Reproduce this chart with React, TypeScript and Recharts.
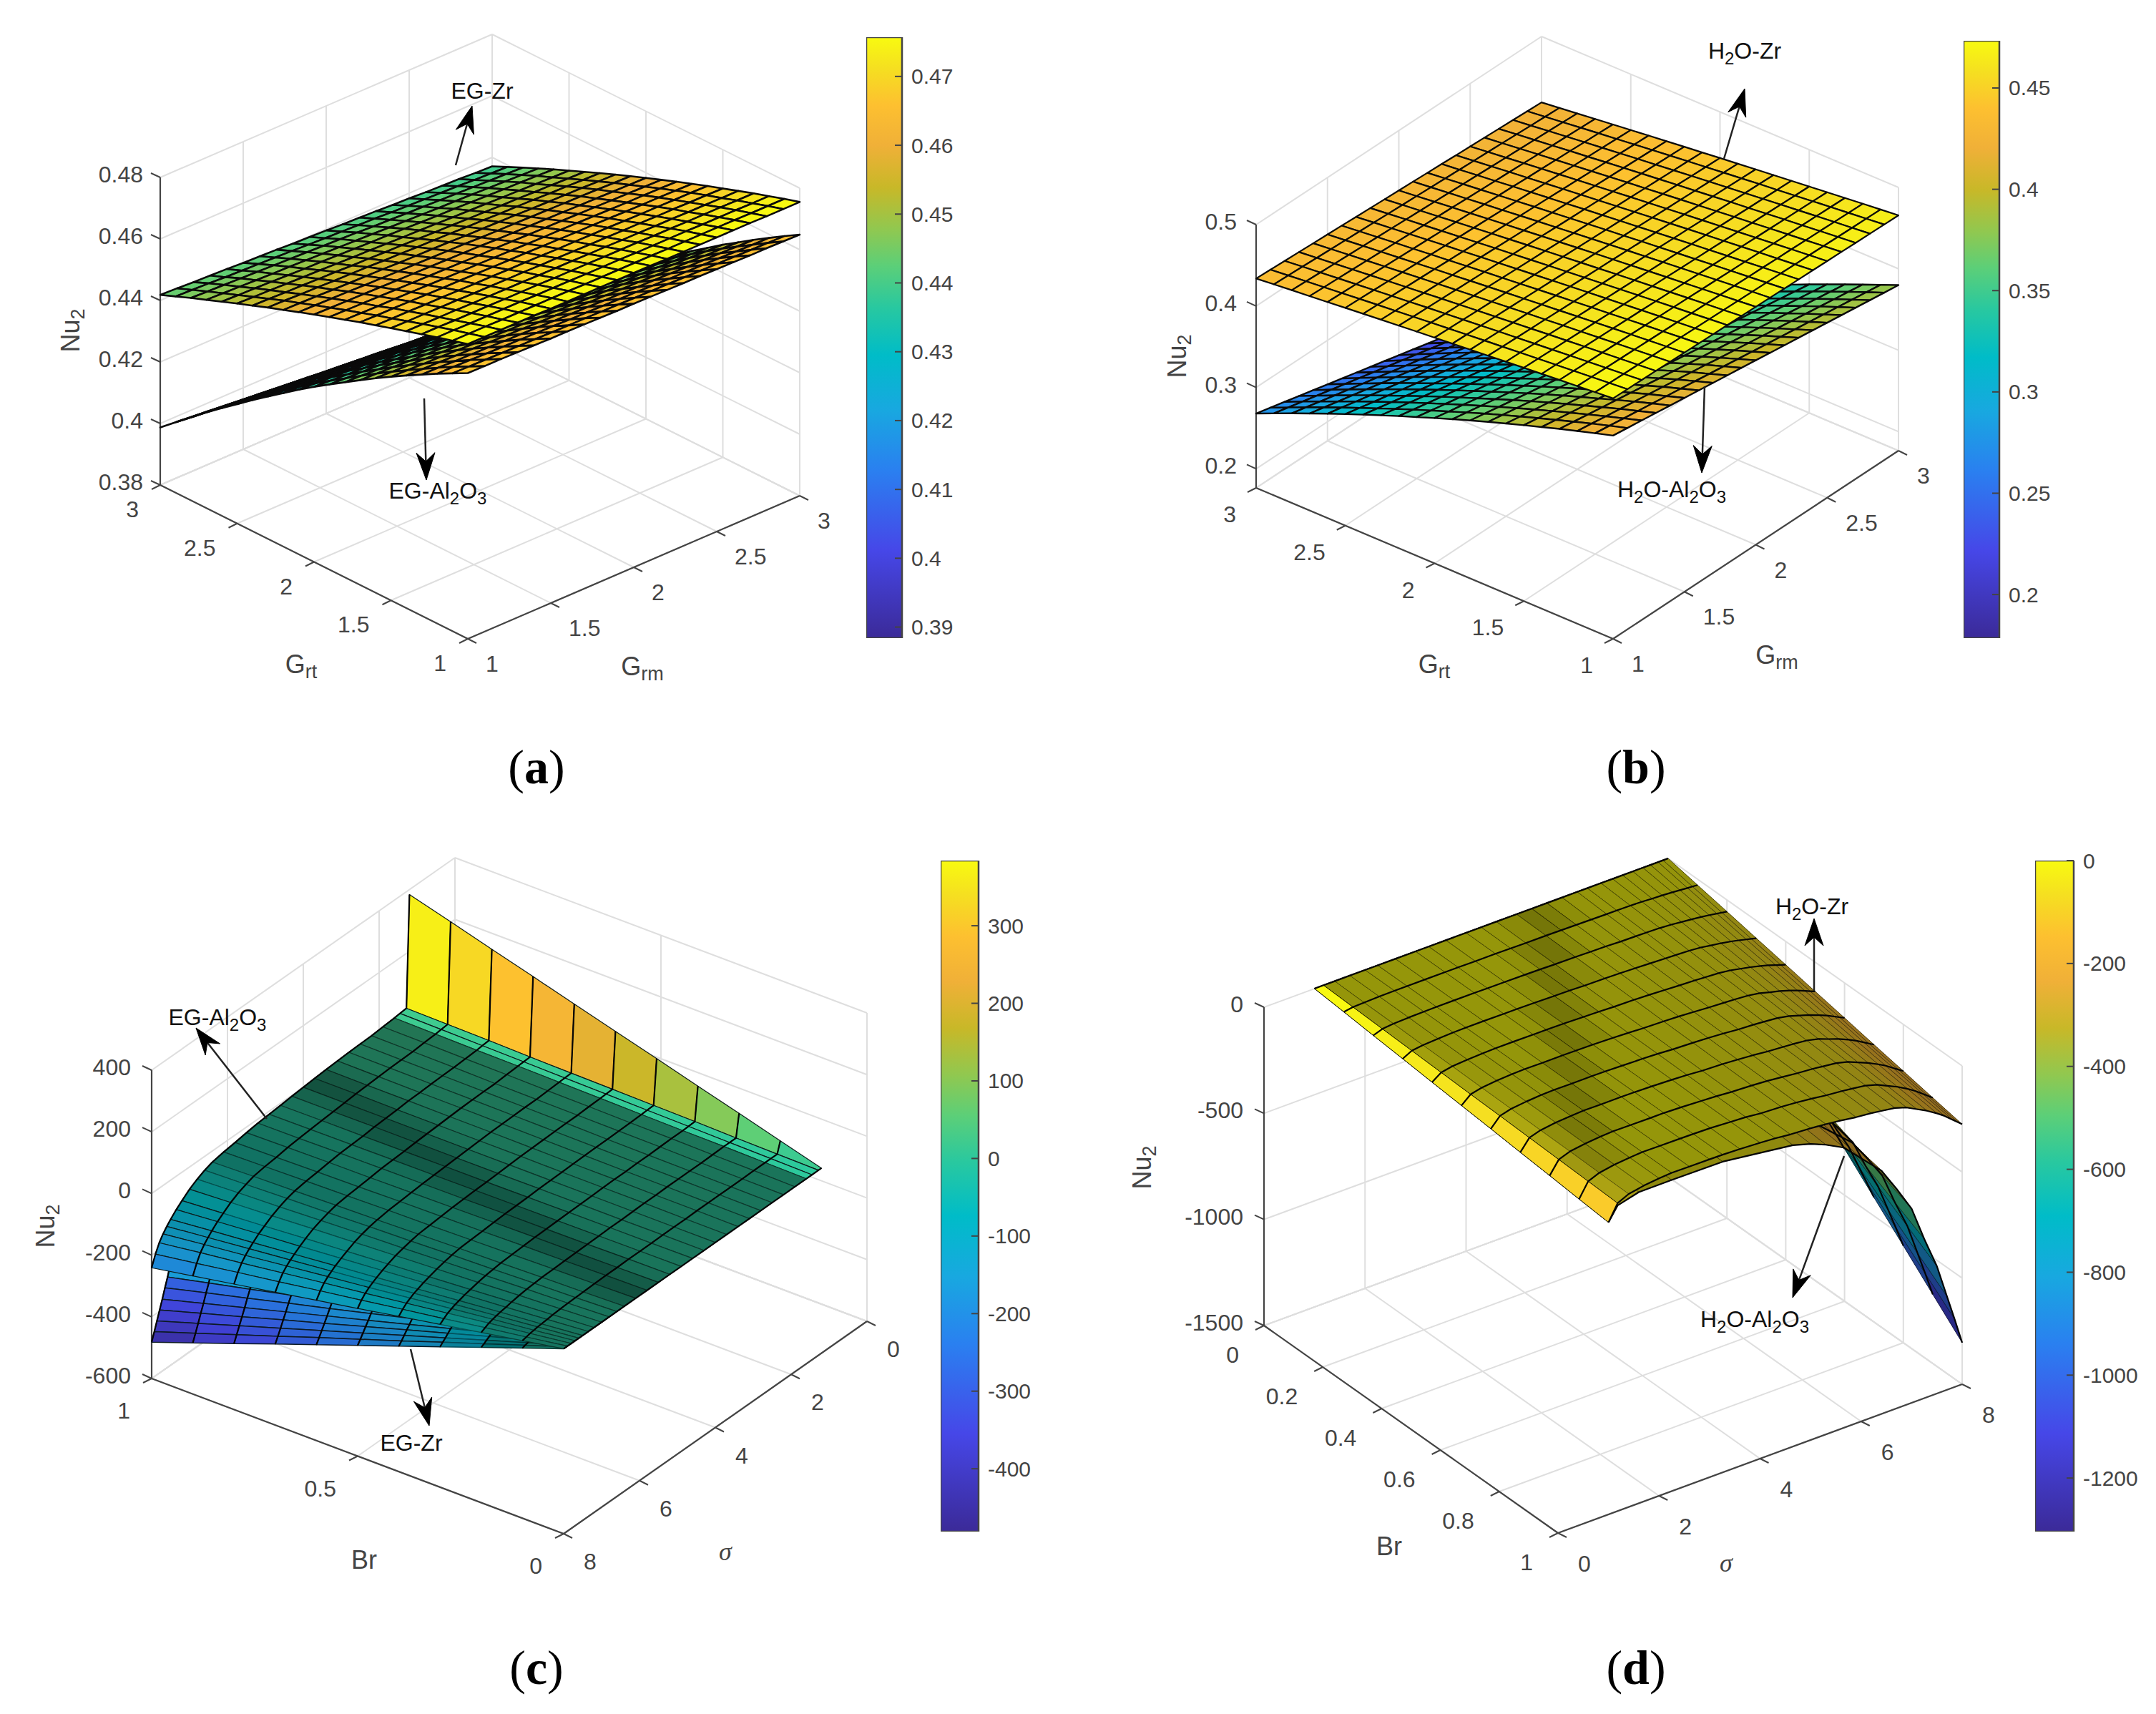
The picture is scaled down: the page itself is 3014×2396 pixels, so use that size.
import { Bar, ComposedChart, Scatter, ScatterChart, XAxis, YAxis } from "recharts"

// Nu2 values. Panels a and b are stored in units of 1e-4.
const gNodes = [1, 1.1, 1.2, 1.3, 1.4, 1.5, 1.6, 1.7, 1.8, 1.9, 2, 2.1, 2.2, 2.3, 2.4, 2.5, 2.6, 2.7, 2.8, 2.9, 3]
const brNodes = [0, 0.1, 0.2, 0.3, 0.4, 0.5, 0.6, 0.7, 0.8, 0.9, 1]

// rows: Grt 1 -> 3, columns: Grm 1 -> 3
const egZrA = [
  [4758,4758,4758,4758,4758,4757,4757,4757,4757,4757,4757,4757,4756,4756,4756,4756,4756,4756,4755,4755,4755],
  [4744,4744,4744,4743,4743,4743,4743,4743,4742,4742,4742,4742,4742,4741,4741,4741,4741,4741,4740,4740,4740],
  [4730,4730,4729,4729,4729,4729,4728,4728,4728,4727,4727,4727,4726,4726,4726,4726,4725,4725,4725,4724,4724],
  [4715,4715,4714,4714,4714,4713,4713,4713,4712,4712,4712,4711,4711,4711,4710,4710,4709,4709,4709,4708,4708],
  [4700,4700,4699,4699,4698,4698,4697,4697,4696,4696,4696,4695,4695,4694,4694,4693,4693,4692,4692,4691,4691],
  [4685,4684,4684,4683,4683,4682,4682,4681,4681,4680,4680,4679,4678,4678,4677,4677,4676,4676,4675,4675,4674],
  [4669,4668,4668,4667,4667,4666,4665,4665,4664,4664,4663,4662,4662,4661,4661,4660,4659,4659,4658,4658,4657],
  [4654,4653,4653,4652,4651,4650,4650,4649,4648,4647,4647,4646,4645,4644,4644,4643,4642,4641,4641,4640,4639],
  [4637,4636,4635,4635,4634,4633,4632,4631,4631,4630,4629,4628,4627,4627,4626,4625,4624,4623,4623,4622,4621],
  [4621,4620,4619,4618,4617,4616,4615,4614,4613,4612,4612,4611,4610,4609,4608,4607,4606,4605,4604,4603,4602],
  [4604,4603,4602,4601,4600,4599,4598,4597,4596,4595,4594,4592,4591,4590,4589,4588,4587,4586,4585,4584,4583],
  [4587,4586,4585,4584,4582,4581,4580,4579,4578,4577,4576,4574,4573,4572,4571,4570,4569,4568,4567,4565,4564],
  [4569,4568,4567,4565,4564,4563,4562,4560,4559,4558,4557,4555,4554,4553,4552,4550,4549,4548,4547,4545,4544],
  [4552,4551,4549,4548,4546,4545,4544,4542,4541,4539,4538,4537,4535,4534,4532,4531,4530,4528,4527,4525,4524],
  [4533,4532,4530,4529,4527,4526,4524,4523,4521,4520,4518,4516,4515,4513,4512,4510,4509,4507,4506,4504,4503],
  [4515,4513,4512,4510,4508,4507,4505,4503,4502,4500,4498,4497,4495,4493,4492,4490,4488,4487,4485,4483,4482],
  [4496,4494,4493,4491,4489,4487,4486,4484,4482,4480,4479,4477,4475,4473,4472,4470,4468,4466,4465,4463,4461],
  [4477,4475,4473,4471,4469,4468,4466,4464,4462,4460,4458,4456,4454,4452,4450,4449,4447,4445,4443,4441,4439],
  [4458,4456,4454,4452,4450,4448,4446,4444,4442,4440,4438,4435,4433,4431,4429,4427,4425,4423,4421,4419,4417],
  [4438,4436,4434,4431,4429,4427,4425,4423,4420,4418,4416,4414,4412,4409,4407,4405,4403,4401,4398,4396,4394],
  [4418,4416,4413,4411,4409,4406,4404,4402,4399,4397,4395,4392,4390,4388,4385,4383,4380,4378,4376,4373,4371],
]
const egAlA = [
  [4664,4663,4663,4662,4661,4660,4660,4659,4658,4657,4657,4656,4655,4654,4654,4653,4652,4651,4651,4650,4649],
  [4638,4637,4636,4635,4634,4633,4632,4631,4631,4630,4629,4628,4627,4626,4625,4624,4623,4622,4621,4620,4619],
  [4612,4611,4610,4608,4607,4606,4605,4604,4602,4601,4600,4599,4598,4596,4595,4594,4593,4592,4590,4589,4588],
  [4584,4583,4581,4580,4579,4577,4576,4575,4573,4572,4571,4569,4568,4566,4565,4564,4562,4561,4560,4558,4557],
  [4556,4554,4553,4551,4550,4548,4546,4545,4543,4542,4540,4538,4537,4535,4534,4532,4530,4529,4527,4526,4524],
  [4527,4525,4523,4522,4520,4518,4516,4514,4513,4511,4509,4507,4505,4504,4502,4500,4498,4496,4495,4493,4491],
  [4497,4495,4493,4491,4489,4487,4485,4483,4481,4479,4477,4474,4472,4470,4468,4466,4464,4462,4460,4458,4456],
  [4466,4464,4462,4459,4457,4455,4453,4450,4448,4446,4444,4441,4439,4437,4435,4432,4430,4428,4426,4423,4421],
  [4434,4432,4429,4427,4424,4422,4419,4417,4414,4412,4409,4407,4404,4402,4399,4397,4394,4392,4389,4387,4384],
  [4402,4399,4397,4394,4391,4389,4386,4383,4380,4378,4375,4372,4370,4367,4364,4362,4359,4356,4353,4351,4348],
  [4369,4366,4363,4360,4357,4354,4351,4348,4345,4342,4340,4337,4334,4331,4328,4325,4322,4319,4316,4313,4310],
  [4335,4332,4329,4326,4322,4319,4316,4313,4310,4307,4304,4300,4297,4294,4291,4288,4285,4282,4278,4275,4272],
  [4299,4296,4292,4289,4285,4282,4279,4275,4272,4268,4265,4262,4258,4255,4251,4248,4245,4241,4238,4234,4231],
  [4263,4259,4256,4252,4248,4245,4241,4237,4234,4230,4227,4223,4219,4216,4212,4208,4205,4201,4197,4194,4190],
  [4226,4222,4218,4214,4211,4207,4203,4199,4195,4191,4188,4184,4180,4176,4172,4168,4164,4161,4157,4153,4149],
  [4188,4184,4180,4176,4172,4168,4163,4159,4155,4151,4147,4143,4139,4135,4131,4127,4122,4118,4114,4110,4106],
  [4150,4146,4141,4137,4133,4128,4124,4120,4115,4111,4107,4102,4098,4093,4089,4085,4080,4076,4072,4067,4063],
  [4111,4106,4102,4097,4092,4088,4083,4078,4074,4069,4065,4060,4055,4051,4046,4041,4037,4032,4027,4023,4018],
  [4070,4065,4060,4055,4050,4046,4041,4036,4031,4026,4022,4017,4012,4007,4002,3997,3992,3988,3983,3978,3973],
  [4029,4024,4019,4014,4009,4004,3998,3993,3988,3983,3978,3973,3968,3963,3958,3953,3947,3942,3937,3932,3927],
  [3987,3982,3976,3971,3966,3960,3955,3950,3944,3939,3934,3928,3923,3918,3912,3907,3902,3896,3891,3885,3880],
]
const h2oZrB = [
  [4720,4717,4714,4711,4707,4704,4701,4698,4695,4692,4689,4685,4682,4679,4676,4673,4670,4666,4663,4660,4657],
  [4703,4700,4696,4693,4689,4686,4683,4679,4676,4672,4669,4666,4662,4659,4655,4652,4649,4645,4642,4639,4636],
  [4685,4682,4678,4674,4671,4667,4664,4660,4656,4653,4650,4646,4642,4639,4635,4632,4628,4625,4621,4617,4614],
  [4668,4664,4660,4656,4653,4649,4645,4641,4638,4634,4630,4626,4622,4618,4615,4611,4607,4603,4600,4596,4592],
  [4650,4646,4642,4638,4634,4630,4626,4622,4618,4614,4610,4606,4602,4598,4594,4590,4586,4582,4578,4574,4570],
  [4632,4628,4623,4619,4615,4611,4606,4602,4598,4594,4590,4585,4581,4577,4573,4568,4564,4560,4556,4551,4547],
  [4614,4610,4605,4601,4596,4592,4587,4583,4578,4574,4570,4565,4561,4556,4552,4547,4543,4538,4534,4529,4525],
  [4595,4590,4586,4581,4577,4572,4567,4563,4558,4554,4549,4544,4540,4535,4531,4526,4521,4517,4512,4508,4503],
  [4577,4572,4567,4562,4558,4553,4548,4543,4538,4533,4529,4524,4519,4514,4509,4504,4499,4494,4490,4485,4480],
  [4558,4553,4548,4543,4538,4533,4528,4523,4518,4513,4508,4502,4497,4492,4487,4482,4477,4472,4467,4462,4457],
  [4539,4534,4528,4523,4518,4513,4507,4502,4497,4492,4487,4481,4476,4471,4465,4460,4455,4450,4444,4439,4434],
  [4520,4515,4509,4504,4498,4493,4487,4482,4476,4471,4465,4460,4454,4449,4443,4438,4432,4427,4421,4416,4410],
  [4501,4495,4490,4484,4478,4473,4467,4461,4455,4450,4444,4438,4432,4427,4421,4415,4410,4404,4398,4393,4387],
  [4481,4475,4469,4463,4457,4451,4446,4440,4434,4428,4422,4416,4410,4404,4398,4392,4387,4381,4375,4369,4363],
  [4461,4455,4449,4443,4437,4431,4424,4418,4412,4406,4400,4394,4388,4382,4376,4370,4363,4357,4351,4345,4339],
  [4441,4435,4428,4422,4416,4409,4403,4397,4390,4384,4378,4371,4365,4359,4352,4346,4339,4333,4327,4320,4314],
  [4420,4414,4407,4401,4394,4388,4381,4375,4368,4362,4355,4349,4342,4336,4329,4323,4316,4310,4303,4297,4290],
  [4400,4393,4387,4380,4373,4366,4360,4353,4346,4339,4333,4326,4319,4312,4306,4299,4292,4285,4279,4272,4265],
  [4380,4373,4366,4359,4352,4345,4338,4331,4324,4317,4310,4303,4296,4289,4282,4275,4268,4261,4254,4247,4240],
  [4359,4352,4345,4337,4330,4323,4316,4309,4301,4294,4287,4280,4273,4265,4258,4251,4244,4237,4229,4222,4215],
  [4338,4331,4323,4316,4308,4301,4294,4286,4279,4271,4264,4257,4249,4242,4234,4227,4220,4212,4205,4197,4190],
]
const h2oAlB = [
  [4263,4240,4217,4194,4170,4147,4124,4101,4078,4055,4032,4008,3985,3962,3939,3916,3893,3869,3846,3823,3800],
  [4199,4175,4150,4126,4102,4077,4053,4029,4004,3980,3955,3931,3906,3882,3857,3833,3809,3784,3760,3735,3711],
  [4134,4109,4083,4058,4033,4008,3983,3957,3932,3906,3878,3853,3828,3802,3776,3750,3725,3699,3673,3648,3622],
  [4067,4040,4013,3986,3960,3933,3906,3879,3853,3826,3799,3772,3745,3718,3692,3665,3638,3611,3585,3558,3531],
  [3997,3969,3941,3913,3885,3857,3829,3801,3773,3745,3718,3690,3662,3634,3606,3578,3550,3522,3494,3466,3438],
  [3927,3898,3869,3840,3811,3782,3752,3723,3694,3665,3636,3607,3578,3549,3519,3490,3461,3432,3403,3374,3345],
  [3855,3825,3795,3765,3735,3705,3675,3645,3615,3585,3553,3523,3493,3463,3433,3403,3373,3343,3310,3280,3250],
  [3782,3751,3720,3689,3658,3626,3595,3564,3533,3502,3469,3438,3407,3376,3345,3313,3282,3251,3220,3187,3155],
  [3707,3675,3642,3610,3577,3545,3513,3480,3448,3415,3383,3350,3318,3285,3253,3220,3188,3155,3123,3090,3058],
  [3630,3596,3563,3529,3496,3462,3429,3395,3362,3328,3295,3261,3228,3194,3161,3127,3094,3060,3026,2993,2959],
  [3551,3516,3482,3447,3413,3378,3344,3309,3275,3240,3206,3171,3137,3102,3068,3033,2998,2964,2929,2895,2860],
  [3471,3435,3400,3364,3329,3293,3258,3222,3186,3151,3115,3080,3044,3008,2973,2937,2901,2866,2830,2795,2759],
  [3390,3353,3317,3280,3244,3207,3170,3134,3097,3061,3024,2987,2951,2914,2878,2841,2804,2768,2731,2695,2658],
  [3307,3269,3232,3194,3157,3119,3081,3044,3006,2969,2931,2893,2856,2818,2781,2743,2705,2668,2630,2593,2555],
  [3222,3183,3145,3106,3068,3029,2990,2952,2913,2875,2836,2797,2759,2720,2682,2643,2604,2566,2527,2489,2450],
  [3136,3096,3057,3017,2978,2938,2899,2859,2820,2780,2741,2701,2662,2622,2583,2543,2504,2464,2425,2385,2345],
  [3048,3008,2967,2927,2886,2846,2805,2765,2724,2684,2643,2603,2562,2522,2481,2441,2400,2360,2319,2279,2238],
  [2958,2917,2875,2834,2793,2751,2710,2668,2627,2586,2545,2503,2462,2420,2379,2338,2296,2255,2214,2172,2131],
  [2867,2825,2782,2740,2698,2656,2614,2571,2529,2487,2445,2402,2360,2318,2276,2234,2191,2149,2107,2064,2022],
  [2774,2731,2688,2645,2602,2558,2515,2472,2429,2386,2343,2300,2256,2213,2170,2127,2084,2041,1997,1954,1911],
  [2680,2636,2592,2548,2504,2460,2416,2372,2328,2284,2240,2196,2152,2108,2064,2020,1976,1932,1888,1844,1800],
]

// rows: sigma ascending, columns: Br 0 -> 1
const sigmaAlC = [1.2,1.28,1.45,1.6,1.9,2.2,2.5,2.8,3.1,3.4,3.7,4,4.3,4.6,4.9,5.2,5.5,5.8,6.1,6.4,6.6,6.8,7,7.2,7.35,7.5,7.6,7.7,7.8,7.9,8]
const egAlC = [
  [0,38,77,115,154,192,230,269,307,346,384],
  [0,2,4,7,9,11,13,15,18,20,22],
  [0,2,4,6,8,10,12,14,16,18,20],
  [0,2,4,5,7,9,11,13,14,16,18],
  [0,2,3,5,6,8,9,11,12,14,15],
  [0,1,2,4,5,6,7,8,10,11,12],
  [0,1,2,3,4,6,7,8,9,10,11],
  [0,1,2,3,4,5,6,7,8,9,10],
  [0,1,2,2,3,4,5,6,6,7,8],
  [0,1,1,2,2,3,4,4,5,5,6],
  [0,0,1,1,1,2,2,2,2,3,3],
  [0,0,0,0,0,0,0,0,0,0,0],
  [0,0,-1,-1,-1,-2,-2,-2,-2,-3,-3],
  [0,-1,-1,-2,-3,-4,-4,-5,-6,-6,-7],
  [0,-1,-2,-3,-4,-5,-6,-7,-8,-9,-10],
  [0,-1,-3,-4,-5,-7,-8,-9,-10,-12,-13],
  [0,-2,-4,-5,-7,-9,-11,-13,-14,-16,-18],
  [0,-2,-5,-7,-10,-12,-14,-17,-19,-22,-24],
  [0,-3,-6,-9,-12,-15,-17,-20,-23,-26,-29],
  [0,-4,-7,-11,-14,-18,-22,-25,-29,-32,-36],
  [0,-5,-9,-14,-18,-23,-27,-32,-36,-41,-45],
  [0,-6,-11,-17,-23,-29,-34,-40,-46,-51,-57],
  [0,-7,-14,-22,-29,-36,-43,-50,-58,-65,-72],
  [0,-9,-18,-28,-37,-46,-55,-64,-74,-83,-92],
  [0,-11,-22,-32,-43,-54,-65,-76,-86,-97,-108],
  [0,-13,-25,-38,-51,-64,-76,-89,-102,-114,-127],
  [0,-14,-28,-42,-56,-71,-85,-99,-113,-127,-141],
  [0,-16,-31,-47,-63,-79,-94,-110,-126,-141,-157],
  [0,-18,-35,-53,-71,-89,-106,-124,-142,-159,-177],
  [0,-21,-41,-62,-82,-103,-123,-144,-164,-185,-205],
  [0,-24,-48,-72,-96,-121,-145,-169,-193,-217,-241],
]
const sigmaZrC = [6.5,7,7.3,7.58,7.65,7.72,7.79,7.86,7.93,8]
const egZrC = [
  [0,-5,-10,-15,-20,-25,-30,-35,-40,-45,-50],
  [0,-9,-18,-27,-36,-45,-54,-63,-72,-81,-90],
  [0,-17,-34,-51,-68,-85,-102,-119,-136,-153,-170],
  [0,-31,-61,-92,-123,-154,-184,-215,-246,-276,-307],
  [0,-34,-67,-101,-134,-168,-202,-235,-269,-302,-336],
  [0,-37,-73,-110,-147,-184,-220,-257,-294,-330,-367],
  [0,-40,-79,-119,-158,-198,-238,-277,-317,-356,-396],
  [0,-43,-85,-128,-170,-213,-255,-298,-340,-383,-425],
  [0,-45,-91,-136,-182,-227,-272,-318,-363,-409,-454],
  [0,-48,-96,-145,-193,-241,-289,-337,-386,-434,-482],
]
const sigmaZrD = [1,1.18,1.4,1.7,2,2.25,2.6,3,3.26,3.6,4,4.3,4.6,5,5.3,5.6,5.9,6.2,6.4,6.67,6.9,7.1,7.3,7.5,7.65,7.8,7.9,8]
const h2oZrD = [
  [0,-12,-25,-37,-50,-62,-74,-87,-99,-112,-124],
  [0,-5,-10,-15,-20,-25,-29,-34,-39,-44,-49],
  [0,-3,-5,-8,-10,-13,-15,-18,-20,-23,-25],
  [0,-1,-2,-4,-5,-6,-7,-8,-10,-11,-12],
  [0,0,-1,-1,-2,-2,-2,-3,-3,-4,-4],
  [0,0,0,0,0,0,0,0,0,0,0],
  [0,0,0,0,0,-1,-1,-1,-1,-1,-1],
  [0,0,0,-1,-1,-1,-1,-1,-2,-2,-2],
  [0,0,-1,-1,-1,-2,-2,-2,-2,-3,-3],
  [0,-1,-1,-2,-2,-3,-4,-4,-5,-5,-6],
  [0,-1,-2,-4,-5,-6,-7,-8,-10,-11,-12],
  [0,-2,-3,-5,-7,-9,-10,-12,-14,-15,-17],
  [0,-3,-5,-8,-10,-13,-15,-18,-20,-23,-25],
  [0,-3,-6,-9,-12,-16,-19,-22,-25,-28,-31],
  [0,-4,-8,-11,-15,-19,-23,-27,-30,-34,-38],
  [0,-5,-9,-14,-19,-24,-28,-33,-38,-42,-47],
  [0,-6,-12,-17,-23,-29,-35,-41,-46,-52,-58],
  [0,-7,-13,-20,-26,-33,-39,-46,-52,-59,-65],
  [0,-7,-14,-22,-29,-36,-43,-50,-58,-65,-72],
  [0,-8,-16,-25,-33,-41,-49,-57,-66,-74,-82],
  [0,-10,-20,-30,-40,-50,-60,-70,-80,-90,-100],
  [0,-13,-25,-38,-50,-63,-75,-88,-100,-113,-125],
  [0,-15,-30,-45,-60,-75,-90,-105,-120,-135,-150],
  [0,-18,-36,-54,-72,-90,-108,-126,-144,-162,-180],
  [0,-21,-41,-62,-82,-103,-123,-144,-164,-185,-205],
  [0,-24,-47,-71,-94,-118,-141,-165,-188,-212,-235],
  [0,-26,-51,-77,-102,-128,-153,-179,-204,-230,-255],
  [0,-28,-55,-83,-110,-138,-165,-193,-220,-248,-275],
]
const sigmaAlD = [1,1.18,1.6,2.25,3.26,4.65,5,5.3,5.66,6,6.4,6.7,7,7.25,7.5,7.7,7.85,8]
const h2oAlD = [
  [0,-12,-25,-37,-50,-62,-74,-87,-99,-112,-124],
  [0,-6,-12,-18,-24,-30,-36,-42,-48,-54,-60],
  [0,-3,-7,-10,-14,-17,-20,-24,-27,-31,-34],
  [0,-3,-7,-10,-14,-17,-20,-24,-27,-31,-34],
  [0,-4,-7,-11,-14,-18,-22,-25,-29,-32,-36],
  [0,-8,-16,-24,-32,-40,-48,-56,-64,-72,-80],
  [0,-11,-21,-32,-42,-53,-63,-74,-84,-95,-105],
  [0,-14,-27,-41,-54,-68,-81,-95,-108,-122,-135],
  [0,-18,-36,-54,-72,-90,-108,-126,-144,-162,-180],
  [0,-26,-52,-78,-104,-130,-156,-182,-208,-234,-260],
  [0,-35,-71,-106,-141,-177,-212,-247,-282,-318,-353],
  [0,-47,-93,-140,-186,-233,-279,-326,-372,-419,-465],
  [0,-59,-117,-176,-234,-293,-351,-410,-468,-527,-585],
  [0,-75,-150,-225,-300,-375,-450,-525,-600,-675,-750],
  [0,-90,-180,-270,-360,-450,-540,-630,-720,-810,-900],
  [0,-106,-212,-318,-424,-530,-636,-742,-848,-954,-1060],
  [0,-118,-236,-354,-472,-590,-708,-826,-944,-1062,-1180],
  [0,-130,-261,-391,-522,-652,-782,-913,-1043,-1174,-1304],
]

const colorbarTicksA = [0.39, 0.4, 0.41, 0.42, 0.43, 0.44, 0.45, 0.46, 0.47]
const colorbarTicksB = [0.2, 0.25, 0.3, 0.35, 0.4, 0.45]
const colorbarTicksC = [-400, -300, -200, -100, 0, 100, 200, 300]
const colorbarTicksD = [-1200, -1000, -800, -600, -400, -200, 0]

const GRID = "#dedede"
const AXIS = "#444444"
const FONT = "'Liberation Sans', Arial, sans-serif"

// colormap stops
const colorStops: [number, string][] = [
  [0, "#3b2a98"], [0.146, "#4647e8"], [0.28, "#2a80f0"], [0.38, "#18a8e0"], [0.47, "#00bcc8"],
  [0.55, "#28c8a0"], [0.62, "#5ccf78"], [0.68, "#90c850"], [0.75, "#c8b828"], [0.82, "#f0b038"],
  [0.887, "#fdc030"], [0.95, "#f5e020"], [1, "#f8fa10"],
]

const toRgb = (hex: string) => [1, 3, 5].map((i) => parseInt(hex.slice(i, i + 2), 16))

function colorAt(t: number, shade: number) {
  const c = Math.min(1, Math.max(0, t))
  let k = 0
  while (k < colorStops.length - 2 && colorStops[k + 1][0] < c) k++
  const [p0, c0] = colorStops[k]
  const [p1, c1] = colorStops[k + 1]
  const f = (c - p0) / (p1 - p0)
  const a = toRgb(c0)
  const b = toRgb(c1)
  return `rgb(${a.map((v, i) => Math.round((v + (b[i] - v) * f) * (1 - shade))).join(",")})`
}

type Pt = [number, number]
type Poly = { pts: Pt[]; fill: string; stroke: string; width: number }
type Part = [string, boolean?]
type Label = { x: number; y: number; parts: Part[]; anchor?: string; size: number; fill?: string; rotate?: boolean; italic?: boolean }

const line = (a: Pt, b: Pt, stroke: string, width: number): Poly => ({ pts: [a, b], fill: "none", stroke, width })

function arrow(a: Pt, b: Pt): Poly[] {
  const len = Math.hypot(b[0] - a[0], b[1] - a[1])
  const ux = (b[0] - a[0]) / len
  const uy = (b[1] - a[1]) / len
  const head: Pt[] = [
    b,
    [b[0] - ux * 38 - uy * 13, b[1] - uy * 38 + ux * 13],
    [b[0] - ux * 26, b[1] - uy * 26],
    [b[0] - ux * 38 + uy * 13, b[1] - uy * 38 - ux * 13],
  ]
  return [line(a, [b[0] - ux * 26, b[1] - uy * 26], "#222222", 2.5), { pts: head, fill: "#000000", stroke: "#000000", width: 1 }]
}

// one Scatter per layer: the library scales every vertex, the line renderer groups them back into shapes
function polyLayer(id: string, polys: Poly[]) {
  return (
    <Scatter
      key={id}
      data={polys.flatMap((p) => p.pts.map(([x, y]) => ({ x, y })))}
      isAnimationActive={false}
      legendType="none"
      shape={() => <g />}
      line={(lp: any) => {
        let k = 0
        return (
          <g key={id + "-shapes"}>
            {polys.map((p, i) => {
              const seg = lp.points.slice(k, k + p.pts.length)
              k += p.pts.length
              const pts = seg.map((q: any) => `${q.x},${q.y}`).join(" ")
              return p.fill === "none" ? (
                <polyline key={i} points={pts} fill="none" stroke={p.stroke} strokeWidth={p.width} strokeLinejoin="round" />
              ) : (
                <polygon key={i} points={pts} fill={p.fill} stroke={p.stroke} strokeWidth={p.width} strokeLinejoin="round" />
              )
            })}
          </g>
        )
      }}
    />
  )
}

function textLayer(id: string, labels: Label[]) {
  return (
    <Scatter
      key={id}
      data={labels}
      isAnimationActive={false}
      legendType="none"
      shape={(sp: any) => {
        const l: Label = sp.payload
        const shift = l.size * 0.3
        return (
          <text
            x={sp.cx}
            y={sp.cy}
            textAnchor={l.anchor ?? "middle"}
            dominantBaseline="central"
            fontFamily={l.italic ? "'Liberation Serif', serif" : FONT}
            fontStyle={l.italic ? "italic" : "normal"}
            fontSize={l.size}
            fill={l.fill ?? "#444444"}
            transform={l.rotate ? `rotate(-90 ${sp.cx} ${sp.cy})` : undefined}
          >
            {l.parts.map(([t, sub], i) => {
              const prevSub = i > 0 && l.parts[i - 1][1]
              return (
                <tspan key={i} fontSize={sub ? l.size * 0.75 : l.size} dy={sub ? shift : prevSub ? -shift : 0}>
                  {t}
                </tspan>
              )
            })}
          </text>
        )
      }}
    />
  )
}

type Surface = {
  rows: number[]
  cols: number[]
  z: number[][]
  unit: number
  stroke: string
  width: number
  // the original mesh is far denser than the rows kept here, so its black lines are painted as a darkening of the cell
  dense?: { step: number; cap: number; bright: number; band?: [number, number, number] }
  colLines?: boolean
}
type Panel = {
  id: string
  frame: [number, number, number, number]
  left: Pt
  front: Pt
  right: Pt
  zHeight: number
  zRange: [number, number]
  zTicks: number[]
  uRange: [number, number]
  vRange: [number, number]
  uTicks: number[]
  vTicks: number[]
  rowsOnU: boolean
  surfaces: Surface[]
  colorRange: [number, number]
  zOff: number
  uOff: Pt
  vOff: Pt
  nu: Pt
  uName: Label
  vName: Label
  notes: { text: Part[]; at: Pt; from: Pt; to: Pt }[]
  bar: [number, number, number, number]
  barTicks: number[]
}

const panels: Panel[] = [
  {
    id: "a", frame: [0, 0, 1200, 1020], left: [224, 678], front: [654, 893], right: [1118, 693], zHeight: 430,
    zRange: [0.38, 0.48], zTicks: [0.38, 0.4, 0.42, 0.44, 0.46, 0.48],
    uRange: [3, 1], vRange: [1, 3], uTicks: [3, 2.5, 2, 1.5, 1], vTicks: [1, 1.5, 2, 2.5, 3], rowsOnU: true,
    surfaces: [
      { rows: gNodes, cols: gNodes, z: egAlA, unit: 1e-4, stroke: "#0a0a0a", width: 2.6 },
      { rows: gNodes, cols: gNodes, z: egZrA, unit: 1e-4, stroke: "#0a0a0a", width: 2.6 },
    ],
    colorRange: [0.3884, 0.4757], zOff: -24, uOff: [-30, 34], vOff: [25, 35], nu: [98, 462],
    uName: { x: 421, y: 928, parts: [["G"], ["rt", true]], size: 36 },
    vName: { x: 898, y: 931, parts: [["G"], ["rm", true]], size: 36 },
    notes: [
      { text: [["EG-Zr"]], at: [674, 127], from: [637, 231], to: [660, 148] },
      { text: [["EG-Al"], ["2", true], ["O"], ["3", true]], at: [612, 686], from: [593, 557], to: [596, 671] },
    ],
    bar: [1211, 52, 50, 840], barTicks: colorbarTicksA,
  },
  {
    id: "b", frame: [1560, 0, 1170, 1020], left: [1756, 682], front: [2255, 893], right: [2654, 630], zHeight: 368,
    zRange: [0.1766, 0.5], zTicks: [0.2, 0.3, 0.4, 0.5],
    uRange: [3, 1], vRange: [1, 3], uTicks: [3, 2.5, 2, 1.5, 1], vTicks: [1, 1.5, 2, 2.5, 3], rowsOnU: true,
    surfaces: [
      { rows: gNodes, cols: gNodes, z: h2oAlB, unit: 1e-4, stroke: "#0a0a0a", width: 2.4 },
      { rows: gNodes, cols: gNodes, z: h2oZrB, unit: 1e-4, stroke: "#0a0a0a", width: 2.2 },
    ],
    colorRange: [0.1785, 0.4733], zOff: -27, uOff: [-28, 37], vOff: [26, 35], nu: [1645, 498],
    uName: { x: 2005, y: 928, parts: [["G"], ["rt", true]], size: 36 },
    vName: { x: 2484, y: 915, parts: [["G"], ["rm", true]], size: 36 },
    notes: [
      { text: [["H"], ["2", true], ["O-Zr"]], at: [2439, 71], from: [2410, 222], to: [2439, 124] },
      { text: [["H"], ["2", true], ["O-Al"], ["2", true], ["O"], ["3", true]], at: [2337, 684], from: [2383, 540], to: [2379, 661] },
    ],
    bar: [2745, 57, 50, 835], barTicks: colorbarTicksB,
  },
  {
    id: "c", frame: [0, 1180, 1310, 1040], left: [212, 1927], front: [788, 2144], right: [1212, 1847], zHeight: 431,
    zRange: [-600, 400], zTicks: [-600, -400, -200, 0, 200, 400],
    uRange: [1, 0], vRange: [8, 0], uTicks: [1, 0.5, 0], vTicks: [8, 6, 4, 2, 0], rowsOnU: false,
    surfaces: [
      { rows: sigmaZrC, cols: brNodes, z: egZrC, unit: 1, stroke: "#0c1a24", width: 1.5, colLines: true, dense: { step: 0.07, cap: 0.42, bright: 0 } },
      { rows: sigmaAlC, cols: brNodes, z: egAlC, unit: 1, stroke: "#0c1a1a", width: 1.2, colLines: true, dense: { step: 0.07, cap: 0.42, bright: 3, band: [5.9, -2.4, 0.18] } },
    ],
    colorRange: [-481, 384], zOff: -29, uOff: [-30, 45], vOff: [28, 39], nu: [63, 1714],
    uName: { x: 509, y: 2180, parts: [["Br"]], size: 36 },
    vName: { x: 1014, y: 2169, parts: [["σ"]], size: 36, italic: true },
    notes: [
      { text: [["EG-Al"], ["2", true], ["O"], ["3", true]], at: [304, 1422], from: [373, 1564], to: [274, 1437] },
      { text: [["EG-Zr"]], at: [575, 2017], from: [574, 1886], to: [600, 1993] },
    ],
    bar: [1315, 1203, 53, 938], barTicks: colorbarTicksC,
  },
  {
    id: "d", frame: [1560, 1180, 1280, 1040], left: [1767, 1853], front: [2178, 2143], right: [2743, 1935], zHeight: 445,
    zRange: [-1500, 0], zTicks: [-1500, -1000, -500, 0],
    uRange: [0, 1], vRange: [0, 8], uTicks: [0, 0.2, 0.4, 0.6, 0.8, 1], vTicks: [0, 2, 4, 6, 8], rowsOnU: false,
    surfaces: [
      { rows: sigmaAlD, cols: brNodes, z: h2oAlD, unit: 1, stroke: "#0c1414", width: 1, colLines: true, dense: { step: 0.07, cap: 0.42, bright: 1 } },
      { rows: sigmaZrD, cols: brNodes, z: h2oZrD, unit: 1, stroke: "#141400", width: 1, colLines: true, dense: { step: 0.07, cap: 0.4, bright: 1, band: [5.3, -4.7, 0.13] } },
    ],
    colorRange: [-1304, 0], zOff: -29, uOff: [-35, 41], vOff: [28, 43], nu: [1596, 1632],
    uName: { x: 1942, y: 2161, parts: [["Br"]], size: 36 },
    vName: { x: 2413, y: 2185, parts: [["σ"]], size: 36, italic: true },
    notes: [
      { text: [["H"], ["2", true], ["O-Zr"]], at: [2533, 1267], from: [2536, 1385], to: [2536, 1284] },
      { text: [["H"], ["2", true], ["O-Al"], ["2", true], ["O"], ["3", true]], at: [2453, 1844], from: [2578, 1616], to: [2506, 1814] },
    ],
    bar: [2845, 1203, 54, 938], barTicks: colorbarTicksD,
  },
]

const frac = (r: [number, number], v: number) => (v - r[0]) / (r[1] - r[0])

function makeProjector(p: Panel) {
  return (u: number, v: number, w: number): Pt => [
    p.left[0] + u * (p.front[0] - p.left[0]) + v * (p.right[0] - p.front[0]),
    p.left[1] + u * (p.front[1] - p.left[1]) + v * (p.right[1] - p.front[1]) - w * p.zHeight,
  ]
}

function boxLayers(p: Panel) {
  const at = makeProjector(p)
  const grid: Poly[] = []
  const axes: Poly[] = []
  const us = p.uTicks.map((t) => frac(p.uRange, t))
  const vs = p.vTicks.map((t) => frac(p.vRange, t))
  const ws = p.zTicks.map((t) => frac(p.zRange, t))
  const top = Math.max(...ws)
  us.forEach((u) => {
    grid.push(line(at(u, 0, 0), at(u, 1, 0), GRID, 2))
    grid.push(line(at(u, 1, 0), at(u, 1, top), GRID, 2))
  })
  vs.forEach((v) => {
    grid.push(line(at(0, v, 0), at(1, v, 0), GRID, 2))
    grid.push(line(at(0, v, 0), at(0, v, top), GRID, 2))
  })
  ws.forEach((w) => {
    grid.push(line(at(0, 0, w), at(0, 1, w), GRID, 2))
    grid.push(line(at(0, 1, w), at(1, 1, w), GRID, 2))
  })
  grid.push(line(at(0, 0, 0), at(0, 1, 0), GRID, 2))
  grid.push(line(at(0, 1, 0), at(1, 1, 0), GRID, 2))
  axes.push(line(at(0, 0, 0), at(0, 0, top), AXIS, 2.2))
  axes.push(line(at(0, 0, 0), at(1, 0, 0), AXIS, 2.2))
  axes.push(line(at(1, 0, 0), at(1, 1, 0), AXIS, 2.2))
  ws.forEach((w) => {
    const a = at(0, 0, w)
    axes.push(line(a, [a[0] - 13, a[1] - 6], AXIS, 2))
  })
  us.forEach((u) => {
    const a = at(u, 0, 0)
    axes.push(line(a, [a[0] - 12, a[1] + 6], AXIS, 2))
  })
  vs.forEach((v) => {
    const a = at(1, v, 0)
    axes.push(line(a, [a[0] + 12, a[1] + 6], AXIS, 2))
  })
  return { grid, axes }
}

function surfacePolys(p: Panel, s: Surface) {
  const at = makeProjector(p)
  const node = (i: number, j: number) => {
    const u = frac(p.uRange, p.rowsOnU ? s.rows[i] : s.cols[j])
    const v = frac(p.vRange, p.rowsOnU ? s.cols[j] : s.rows[i])
    return { u, v, pt: at(u, v, frac(p.zRange, s.z[i][j] * s.unit)) }
  }
  const cells: { depth: number; poly: Poly }[] = []
  for (let i = 0; i < s.rows.length - 1; i++) {
    for (let j = 0; j < s.cols.length - 1; j++) {
      const q = [node(i, j), node(i, j + 1), node(i + 1, j + 1), node(i + 1, j)]
      const value = ((s.z[i][j] + s.z[i][j + 1]) / 2) * s.unit
      const t = frac(p.colorRange, value)
      let shade = 0
      if (s.dense && i >= s.dense.bright) {
        // how far apart the original rows land on screen decides how dark their lines make the cell
        const rx = q[1].pt[0] - q[0].pt[0]
        const ry = q[1].pt[1] - q[0].pt[1]
        const dx = (q[3].pt[0] + q[2].pt[0] - q[0].pt[0] - q[1].pt[0]) / 2
        const dy = (q[3].pt[1] + q[2].pt[1] - q[0].pt[1] - q[1].pt[1]) / 2
        const gap = (Math.abs(rx * dy - ry * dx) / Math.hypot(rx, ry)) * (s.dense.step / (s.rows[i + 1] - s.rows[i]))
        shade = Math.min(s.dense.cap, Math.pow(2.6 / gap, 1.6))
        if (s.dense.band) {
          const [c0, c1, strength] = s.dense.band
          const mid = (s.cols[j] + s.cols[j + 1]) / 2
          const off = (s.rows[i] - (c0 + c1 * mid)) / 0.45
          shade += (strength * Math.exp(-off * off) * shade) / s.dense.cap
        }
      }
      cells.push({
        depth: q.reduce((acc, n) => acc + n.u - n.v, 0),
        poly: {
          pts: q.map((n) => n.pt),
          fill: colorAt(t, shade),
          stroke: shade > 0.25 ? colorAt(t, Math.min(0.8, shade + 0.3)) : s.stroke,
          width: s.width,
        },
      })
    }
  }
  cells.sort((a, b) => a.depth - b.depth)
  const polys = cells.map((c) => c.poly)
  if (s.colLines) {
    s.cols.forEach((_, j) => {
      polys.push({ pts: s.rows.map((_r, i) => node(i, j).pt), fill: "none", stroke: "#050505", width: 2.2 })
    })
  }
  return polys
}

function panelLabels(p: Panel) {
  const at = makeProjector(p)
  const labels: Label[] = []
  p.zTicks.forEach((t) => {
    const a = at(0, 0, frac(p.zRange, t))
    labels.push({ x: a[0] + p.zOff, y: a[1] - 4, parts: [[String(t)]], anchor: "end", size: 32 })
  })
  p.uTicks.forEach((t) => {
    const a = at(frac(p.uRange, t), 0, 0)
    labels.push({ x: a[0] + p.uOff[0], y: a[1] + p.uOff[1], parts: [[String(t)]], anchor: "end", size: 32 })
  })
  p.vTicks.forEach((t) => {
    const a = at(1, frac(p.vRange, t), 0)
    labels.push({ x: a[0] + p.vOff[0], y: a[1] + p.vOff[1], parts: [[String(t)]], anchor: "start", size: 32 })
  })
  labels.push({ x: p.nu[0], y: p.nu[1], parts: [["Nu"], ["2", true]], size: 36, rotate: true })
  labels.push(p.uName, p.vName)
  p.notes.forEach((n) => labels.push({ x: n.at[0], y: n.at[1], parts: n.text, size: 32, fill: "#111111" }))
  return labels
}

function SurfacePanel({ panel }: { panel: Panel }) {
  const [x0, y0, w, h] = panel.frame
  const { grid, axes } = boxLayers(panel)
  return (
    <div style={{ position: "absolute", left: x0, top: y0 }}>
      <ScatterChart width={w} height={h} margin={{ top: 0, right: 0, bottom: 0, left: 0 }}>
        <XAxis type="number" dataKey="x" domain={[x0, x0 + w]} hide />
        <YAxis type="number" dataKey="y" domain={[y0, y0 + h]} reversed hide />
        {polyLayer(panel.id + "-grid", grid)}
        {polyLayer(panel.id + "-axes", axes)}
        {panel.surfaces.map((s, i) => polyLayer(`${panel.id}-surface-${i}`, surfacePolys(panel, s)))}
        {polyLayer(panel.id + "-notes", panel.notes.flatMap((n) => arrow(n.from, n.to)))}
        {textLayer(panel.id + "-text", panelLabels(panel))}
      </ScatterChart>
    </div>
  )
}

function Colorbar({ panel }: { panel: Panel }) {
  const [x, y, w, h] = panel.bar
  const pad = 20
  const gradient = `bar-${panel.id}`
  return (
    <div style={{ position: "absolute", left: x, top: y - pad }}>
      <ComposedChart
        width={w + 110}
        height={h + pad * 2}
        data={[{ name: "range", range: panel.colorRange }]}
        barCategoryGap={0}
        margin={{ top: pad, right: 0, bottom: pad, left: 0 }}
      >
        <defs>
          <linearGradient id={gradient} x1="0" y1="1" x2="0" y2="0">
            {colorStops.map(([o, c]) => (
              <stop key={o} offset={`${o * 100}%`} stopColor={c} />
            ))}
          </linearGradient>
        </defs>
        <XAxis dataKey="name" hide />
        <Bar dataKey="range" fill={`url(#${gradient})`} stroke={AXIS} strokeWidth={2.5} isAnimationActive={false} />
        <YAxis
          type="number"
          orientation="right"
          width={110}
          domain={panel.colorRange}
          ticks={panel.barTicks}
          interval={0}
          axisLine={false}
          tickLine={false}
          tickSize={0}
          tickMargin={0}
          allowDataOverflow
          tick={(tp: any) => (
            <g>
              <line x1={tp.x - 10} x2={tp.x} y1={tp.y} y2={tp.y} stroke={AXIS} strokeWidth={2} />
              <text x={tp.x + 13} y={tp.y} dominantBaseline="central" fontFamily={FONT} fontSize={30} fill="#444444">
                {String(tp.payload.value)}
              </text>
            </g>
          )}
        />
      </ComposedChart>
    </div>
  )
}

const captions: [string, number, number][] = [
  ["a", 750, 1072],
  ["b", 2287, 1072],
  ["c", 750, 2331],
  ["d", 2287, 2331],
]

export default function App() {
  return (
    <div style={{ position: "absolute", left: 0, top: 0, width: 3014, height: 2396, background: "#ffffff", overflow: "hidden" }}>
      {panels.map((p) => (
        <SurfacePanel key={p.id} panel={p} />
      ))}
      {panels.map((p) => (
        <Colorbar key={p.id} panel={p} />
      ))}
      {captions.map(([letter, x, y]) => (
        <div
          key={letter}
          style={{
            position: "absolute",
            left: x,
            top: y,
            transform: "translate(-50%, -50%)",
            fontFamily: "'Liberation Serif', serif",
            fontSize: 68,
            color: "#000000",
          }}
        >
          (<b>{letter}</b>)
        </div>
      ))}
    </div>
  )
}
